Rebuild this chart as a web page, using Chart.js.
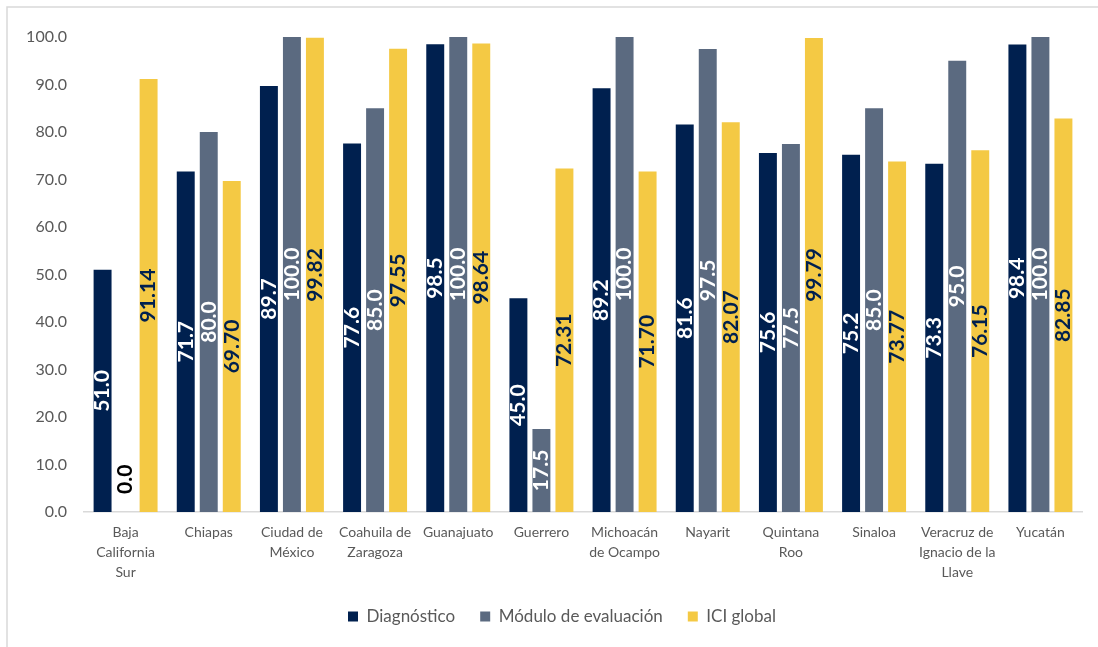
<!DOCTYPE html>
<html lang="es">
<head>
<meta charset="utf-8">
<title>ICI por entidad</title>
<script src="https://cdn.jsdelivr.net/npm/chart.js@4"></script>
<style>
  html, body { margin: 0; padding: 0; background: #fff; }
  #wrap { position: relative; width: 1098px; height: 647px; }
</style>
</head>
<body>
<div id="wrap"><canvas id="grafica" width="1098" height="647"></canvas></div>
<script>
// Datos
const entidades = [
  ['Baja', 'California', 'Sur'], 'Chiapas', ['Ciudad de', 'México'], ['Coahuila de', 'Zaragoza'],
  'Guanajuato', 'Guerrero', ['Michoacán', 'de Ocampo'], 'Nayarit', ['Quintana', 'Roo'],
  'Sinaloa', ['Veracruz de', 'Ignacio de la', 'Llave'], 'Yucatán'
];
const diagnostico = [51.0, 71.7, 89.7, 77.6, 98.5, 45.0, 89.2, 81.6, 75.6, 75.2, 73.3, 98.4];
const modulo = [0.0, 80.0, 100.0, 85.0, 100.0, 17.5, 100.0, 97.5, 77.5, 85.0, 95.0, 100.0];
const iciGlobal = [91.14, 69.70, 99.82, 97.55, 98.64, 72.31, 71.70, 82.07, 99.79, 73.77, 76.15, 82.85];
const ticksY = [0, 10, 20, 30, 40, 50, 60, 70, 80, 90, 100];

const FUENTE = 'Lato, "Open Sans", sans-serif';

// Marco (solo borde superior e izquierdo)
const marco = {
  id: 'marco',
  beforeDraw(chart) {
    const c = chart.ctx;
    c.save();
    c.strokeStyle = '#d9d9d9';
    c.lineWidth = 1.5;
    c.beginPath();
    c.moveTo(7, 647);
    c.lineTo(7, 7);
    c.lineTo(1098, 7);
    c.stroke();
    c.restore();
  }
};

// Mover un poco la leyenda a la derecha
const leyendaDesplazada = {
  id: 'leyendaDesplazada',
  afterLayout(chart) {
    if (chart.legend) {
      chart.legend.left += 21;
      chart.legend.right += 21;
    }
  }
};

// Etiquetas verticales dentro de las barras
const etiquetas = {
  id: 'etiquetas',
  afterDatasetsDraw(chart) {
    const c = chart.ctx;
    c.save();
    c.font = 'bold 21px ' + FUENTE;
    c.textBaseline = 'middle';
    chart.data.datasets.forEach((ds, i) => {
      const meta = chart.getDatasetMeta(i);
      meta.data.forEach((bar, j) => {
        const v = ds.data[j];
        const txt = v.toFixed(ds.decimales);
        c.save();
        c.translate(bar.x, 0);
        c.rotate(-Math.PI / 2);
        if (v === 0) {
          c.fillStyle = '#000';
          c.textAlign = 'left';
          c.fillText(txt, -(bar.base - 18), 0);
        } else {
          c.fillStyle = ds.colorEtiqueta;
          c.textAlign = 'center';
          c.fillText(txt, -(bar.y + bar.base) / 2, 0);
        }
        c.restore();
      });
    });
    c.restore();
  }
};

new Chart(document.getElementById('grafica'), {
  type: 'bar',
  data: {
    labels: entidades,
    datasets: [
      { label: 'Diagnóstico', data: diagnostico, backgroundColor: '#00204f', decimales: 1, colorEtiqueta: '#ffffff' },
      { label: 'Módulo de evaluación', data: modulo, backgroundColor: '#5b6a80', decimales: 1, colorEtiqueta: '#ffffff' },
      { label: 'ICI global', data: iciGlobal, backgroundColor: '#f4c944', decimales: 2, colorEtiqueta: '#00204f' }
    ]
  },
  options: {
    responsive: false,
    animation: false,
    categoryPercentage: 0.83,
    barPercentage: 0.78,
    layout: { padding: { left: 0, right: 16, top: 37, bottom: 12 } },
    plugins: {
      legend: {
        position: 'bottom',
        labels: {
          boxWidth: 10, boxHeight: 10, padding: 25,
          color: '#595959', font: { family: FUENTE, size: 17 }
        }
      },
      tooltip: { enabled: false }
    },
    scales: {
      x: {
        grid: { display: false, drawTicks: false },
        border: { display: true, color: '#d9d9d9', width: 1.5 },
        ticks: { color: '#595959', font: { family: FUENTE, size: 14, lineHeight: 1.43 }, maxRotation: 0, padding: 10 },
        afterFit(s) { s.height = 71; }
      },
      y: {
        min: 0, max: 100,
        grid: { display: false, drawTicks: false },
        border: { display: false },
        afterBuildTicks(s) { s.ticks = ticksY.map(v => ({ value: v })); },
        ticks: { color: '#595959', font: { family: FUENTE, size: 16 }, padding: 17, callback: v => v.toFixed(1) },
        afterFit(s) { s.width = 84; }
      }
    }
  },
  plugins: [marco, leyendaDesplazada, etiquetas]
});
</script>
</body>
</html>
